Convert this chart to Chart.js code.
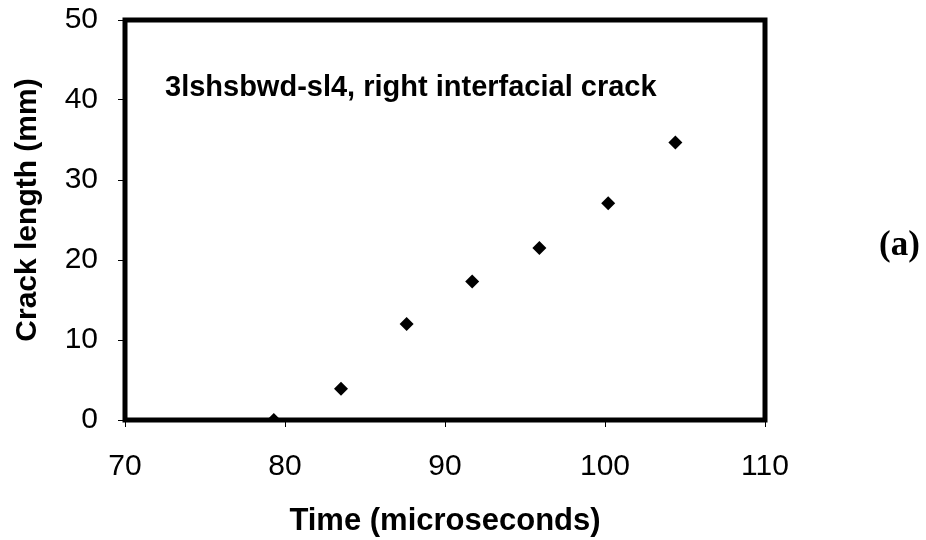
<!DOCTYPE html>
<html>
<head>
<meta charset="utf-8">
<script src="https://cdn.jsdelivr.net/npm/chart.js@4"></script>
<style>
  html, body { margin: 0; padding: 0; background: #fff; }
  #myChartCrack { display: block; width: 926px; height: 540px; }
</style>
</head>
<body>
<canvas id="myChartCrack" width="926" height="540"></canvas>
<script>
// data
var timeValues = [79.3, 83.5, 87.6, 91.7, 95.9, 100.2, 104.4];
var crackLength = [0, 3.9, 12.0, 17.3, 21.5, 27.1, 34.7];
var xTicks = [70, 80, 90, 100, 110];
var yTicks = [0, 10, 20, 30, 40, 50];
var xTitle = 'Time (microseconds)';
var yTitle = 'Crack length (mm)';
var noteText = '3lshsbwd-sl4, right interfacial crack';
var panelLabel = '(a)';

var points = [];
for (var i = 0; i < timeValues.length; i++) {
    points.push({x: timeValues[i], y: crackLength[i]});
}

// thick frame, axis titles and text labels
const framePlugin = {
    id: 'framePlugin',
    afterDatasetsDraw(chart) {
        const c = chart.ctx;
        const a = chart.chartArea;
        c.save();
        c.lineWidth = 5;
        c.strokeStyle = '#000';
        c.strokeRect(a.left, a.top, a.right - a.left, a.bottom - a.top);
        c.fillStyle = '#000';
        c.textBaseline = 'middle';

        c.textAlign = 'left';
        c.font = 'bold 29px "Liberation Sans", Arial, sans-serif';
        c.fillText(noteText, 165, 88);
        c.font = 'bold 35px "Liberation Serif", "Times New Roman", serif';
        c.fillText(panelLabel, 879, 246);

        c.textAlign = 'center';
        c.font = 'bold 31px "Liberation Sans", Arial, sans-serif';
        c.fillText(xTitle, (a.left + a.right) / 2, 521);
        c.font = 'bold 30px "Liberation Sans", Arial, sans-serif';
        c.translate(28, 210);
        c.rotate(-Math.PI / 2);
        c.fillText(yTitle, 0, 0);
        c.restore();
    }
};

const ctxCrack = document.getElementById('myChartCrack').getContext('2d');
const myChartCrack = new Chart(ctxCrack, {
    type: 'scatter',
    data: {
        datasets: [{
            label: 'Crack length',
            data: points,
            pointStyle: 'rectRot',
            pointRadius: 7,
            backgroundColor: '#000',
            borderColor: '#000',
            borderWidth: 0
        }]
    },
    options: {
        responsive: false,
        maintainAspectRatio: false,
        animation: false,
        layout: { padding: { left: 0, right: 161, top: 20, bottom: 20 } },
        plugins: {
            legend: { display: false },
            tooltip: { enabled: false }
        },
        scales: {
            x: {
                type: 'linear',
                min: 70,
                max: 110,
                afterBuildTicks(scale) { scale.ticks = xTicks.map(v => ({value: v})); },
                afterFit(scale) {
                    scale.height = 100;
                    scale.paddingLeft = 0;
                    scale.paddingRight = 0;
                },
                grid: { drawOnChartArea: false, tickLength: 7, color: '#000', lineWidth: 1 },
                border: { display: false },
                ticks: {
                    color: '#000',
                    padding: 22,
                    font: { family: '"Liberation Sans", Arial, sans-serif', size: 30 }
                }
            },
            y: {
                type: 'linear',
                min: 0,
                max: 50,
                afterBuildTicks(scale) { scale.ticks = yTicks.map(v => ({value: v})); },
                afterFit(scale) {
                    scale.width = 125;
                    scale.paddingTop = 0;
                    scale.paddingBottom = 0;
                },
                grid: { drawOnChartArea: false, tickLength: 7, color: '#000', lineWidth: 1 },
                border: { display: false },
                ticks: {
                    color: '#000',
                    padding: 20,
                    font: { family: '"Liberation Sans", Arial, sans-serif', size: 30 }
                }
            }
        }
    },
    plugins: [framePlugin]
});
</script>
</body>
</html>
